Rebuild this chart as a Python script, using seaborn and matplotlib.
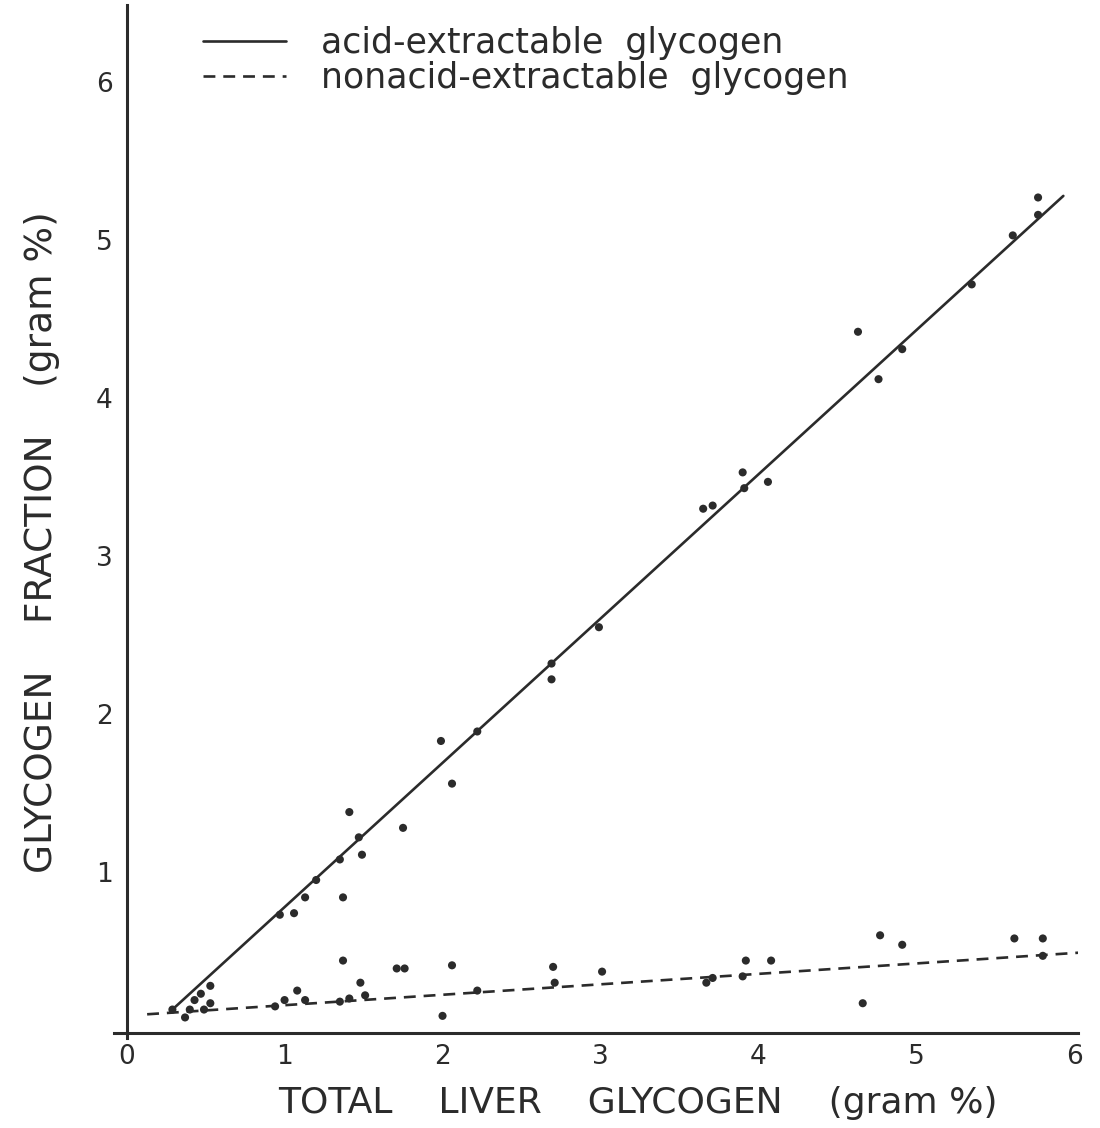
import matplotlib
matplotlib.use('Agg')
import matplotlib.pyplot as plt
import seaborn as sns
import pandas as pd

# acid-extractable glycogen (points around the solid line)
acid_x = [5.77, 5.77, 5.61, 5.35, 4.63, 4.91, 4.76, 3.90, 3.91, 4.06, 3.71, 3.65,
          2.99, 2.69, 2.69, 1.99, 2.22, 2.06, 1.41, 1.47, 1.75, 1.49, 1.35, 1.20,
          1.13, 1.37, 0.97, 1.06, 0.53, 0.47, 0.43, 0.29]
acid_y = [5.27, 5.16, 5.03, 4.72, 4.42, 4.31, 4.12, 3.53, 3.43, 3.47, 3.32, 3.30,
          2.55, 2.32, 2.22, 1.83, 1.89, 1.56, 1.38, 1.22, 1.28, 1.11, 1.08, 0.95,
          0.84, 0.84, 0.73, 0.74, 0.28, 0.23, 0.19, 0.13]

# nonacid-extractable glycogen (points around the dashed line)
nonacid_x = [1.37, 1.71, 1.76, 2.06, 1.48, 1.08, 2.22, 2.00, 0.40, 0.37, 0.53, 0.49,
             1.00, 1.13, 0.94, 1.35, 1.41, 1.51, 2.70, 2.71, 3.01, 3.67, 3.71, 3.90,
             3.92, 4.08, 4.77, 4.91, 4.66, 5.62, 5.80, 5.80]
nonacid_y = [0.44, 0.39, 0.39, 0.41, 0.30, 0.25, 0.25, 0.09, 0.13, 0.08, 0.17, 0.13,
             0.19, 0.19, 0.15, 0.18, 0.20, 0.22, 0.40, 0.30, 0.37, 0.30, 0.33, 0.34,
             0.44, 0.44, 0.60, 0.54, 0.17, 0.58, 0.58, 0.47]

# drawn fit lines (end points)
acid_fit_x = [0.29, 5.93]
acid_fit_y = [0.13, 5.28]
nonacid_fit_x = [0.13, 6.03]
nonacid_fit_y = [0.10, 0.49]

ticks = [0, 1, 2, 3, 4, 5, 6]

sns.set_style("white")
plt.rcParams['font.family'] = ['DejaVu Sans']

pts = pd.concat([
    pd.DataFrame({'x': acid_x, 'y': acid_y, 'fraction': 'acid'}),
    pd.DataFrame({'x': nonacid_x, 'y': nonacid_y, 'fraction': 'nonacid'}),
])

ink = '#2b2b2b'
fig = plt.figure(figsize=(11, 11.28), dpi=100)
ax = fig.add_axes([0.1036, 0.0798, 0.876, 0.916])

sns.lineplot(x=acid_fit_x, y=acid_fit_y, ax=ax, color=ink, lw=1.9,
             label='acid-extractable  glycogen')
sns.lineplot(x=nonacid_fit_x, y=nonacid_fit_y, ax=ax, color=ink, lw=1.9,
             label='nonacid-extractable  glycogen')
ax.lines[1].set_dashes([4.5, 3])
sns.scatterplot(data=pts, x='x', y='y', ax=ax, color=ink, s=34,
                edgecolor='none', legend=False)

ax.set_xlim(-0.08, 6.02)
ax.set_ylim(-0.05, 6.49)
for s in ['top', 'right']:
    ax.spines[s].set_visible(False)
ax.spines['left'].set_position(('data', 0))
ax.spines['bottom'].set_position(('data', -0.02))
for s in ['left', 'bottom']:
    ax.spines[s].set_linewidth(2.2)
    ax.spines[s].set_color(ink)

ax.set_xticks(ticks)
ax.set_yticks(ticks[1:])
ax.set_xticklabels([str(t) for t in ticks])
ax.set_yticklabels([str(t) for t in ticks[1:]])
ax.tick_params(axis='both', length=0, labelsize=19, colors=ink)
ax.tick_params(axis='x', pad=8)
ax.tick_params(axis='y', pad=10)

ax.set_xlabel('TOTAL    LIVER    GLYCOGEN    (gram %)', fontsize=26, color=ink)
ax.xaxis.set_label_coords(0.544, -0.046)
ax.set_ylabel('GLYCOGEN    FRACTION    (gram %)', fontsize=27, color=ink)
ax.yaxis.set_label_coords(-0.056, 0.48)

leg = ax.legend(loc='upper left', bbox_to_anchor=(0.06, 1.01), frameon=False,
                fontsize=25, handlelength=2.4, handletextpad=1.0,
                labelspacing=0.05)
for t in leg.get_texts():
    t.set_color(ink)

fig.savefig('out.png', dpi=100, facecolor='white')
